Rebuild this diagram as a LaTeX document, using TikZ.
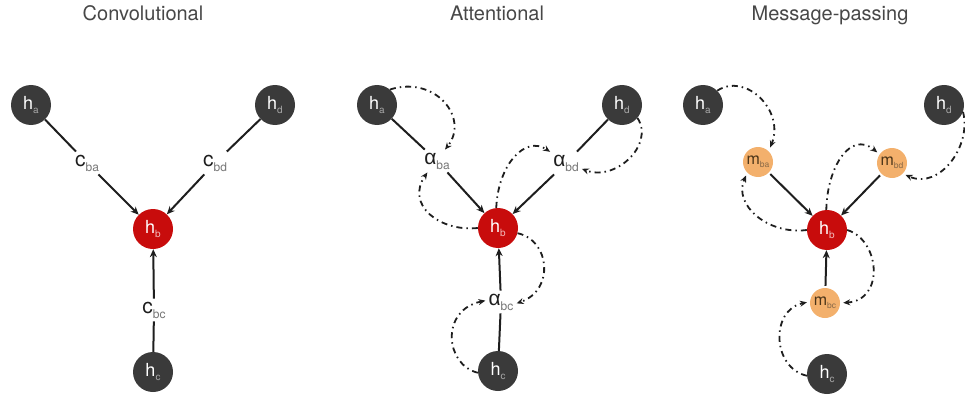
\documentclass[tikz,border=0pt]{standalone}
\usepackage{fontspec}
\setmainfont{TeX Gyre Heros}
\newfontfamily\greekfont{Liberation Sans}
\usetikzlibrary{arrows.meta}

\definecolor{nodegrey}{HTML}{3A3A3A}
\definecolor{nodered}{HTML}{C80C0C}
\definecolor{nodeorange}{HTML}{F3B06C}
\definecolor{titlegrey}{HTML}{474747}
\definecolor{subgrey}{HTML}{A8A8A8}
\definecolor{subpink}{HTML}{F2B8B8}
\definecolor{subbrown}{HTML}{8A6A48}
\definecolor{inkgrey}{HTML}{1E1E1E}
\definecolor{labgrey}{HTML}{777777}
\definecolor{mtext}{HTML}{4A3418}

% node symbols with a small, lowered, tinted subscript
\newcommand\hnode[2]{h\raisebox{-4pt}{\fontsize{10}{10}\selectfont\color{#2}#1}}
\newcommand\mnode[1]{m\raisebox{-3pt}{\fontsize{8.5}{8.5}\selectfont\color{subbrown}#1}}
\newcommand\coefsub[2]{#1\raisebox{-5pt}{\fontsize{12}{12}\selectfont\color{labgrey}#2}}

\begin{document}
\begin{tikzpicture}[x=1pt,y=-1pt,
  state/.style={circle, fill=nodegrey, minimum size=40pt, inner sep=0pt,
    text=white, font=\fontsize{18}{18}\selectfont},
  focus/.style={state, fill=nodered},
  msg/.style={circle, fill=nodeorange, minimum size=30pt, inner sep=0pt,
    text=mtext, font=\fontsize{16}{16}\selectfont},
  coef/.style={inner sep=3pt, text=inkgrey, font=\fontsize{21}{21}\selectfont},
  heading/.style={text=titlegrey, font=\fontsize{20}{20}\selectfont, anchor=base},
  link/.style={line width=2pt, draw=inkgrey},
  flow/.style={link, -{Stealth[length=8pt,width=7pt]}},
  relay/.style={line width=1.8pt, draw=inkgrey,
    dash pattern=on 6pt off 4pt on 1.5pt off 4pt,
    -{Stealth[length=7pt,width=6pt]}}]
\useasboundingbox (0,0) rectangle (965,401);

% ---------------- Convolutional ----------------
\node[heading] (t1) at (143,21) {Convolutional};
\node[state] (ca) at (31,105) {\hnode{a}{subgrey}};
\node[state] (cd) at (275,105) {\hnode{d}{subgrey}};
\node[focus] (cb) at (153,229) {\hnode{b}{subpink}};
\node[state] (cc) at (153,372) {\hnode{c}{subgrey}};
\node[coef] (kba) at (87,163) {\coefsub{c}{ba}};
\node[coef] (kbd) at (215,163) {\coefsub{c}{bd}};
\node[coef] (kbc) at (154,310) {\coefsub{c}{bc}};
\draw[link] (ca) -- (kba);
\draw[flow] (kba) -- (cb);
\draw[link] (cd) -- (kbd);
\draw[flow] (kbd) -- (cb);
\draw[link] (cc) -- (kbc);
\draw[flow] (kbc) -- (cb);

% ---------------- Attentional ----------------
\node[heading] (t2) at (497,21) {Attentional};
\node[state] (aa) at (377,105) {\hnode{a}{subgrey}};
\node[state] (ad) at (622,105) {\hnode{d}{subgrey}};
\node[focus] (ab) at (498,228) {\hnode{b}{subpink}};
\node[state] (ac) at (498,371) {\hnode{c}{subgrey}};
\node[coef] (wba) at (437,161) {\coefsub{{\greekfont α}}{ba}};
\node[coef] (wbd) at (566,163) {\coefsub{{\greekfont α}}{bd}};
\node[coef] (wbc) at (501,302) {\coefsub{{\greekfont α}}{bc}};
\draw[link] (aa) -- (wba);
\draw[flow] (wba) -- (ab);
\draw[link] (ad) -- (wbd);
\draw[flow] (wbd) -- (ab);
\draw[link] (ac) -- (wbc);
\draw[flow] (wbc) -- (ab);
% attention scores computed from pairs of states
\draw[relay] (aa.50) .. controls (435,75) and (470,118) .. (wba.55);
\draw[relay] (ab.180) .. controls (440,232) and (405,205) .. (wba.-130);
\draw[relay] (ab.95) .. controls (498,165) and (525,135) .. (wbd.145);
\draw[relay] (ad.-40) .. controls (655,145) and (615,182) .. (wbd.-20);
\draw[relay] (ab.-15) .. controls (550,240) and (555,290) .. (wbc.-5);
\draw[relay] (ac.185) .. controls (445,365) and (440,310) .. (wbc.175);

% ---------------- Message-passing ----------------
\node[heading] (t3) at (830,21) {Message-passing};
\node[state] (ma) at (703,105) {\hnode{a}{subgrey}};
\node[state] (md) at (944,105) {\hnode{d}{subgrey}};
\node[focus] (mb) at (827,230) {\hnode{b}{subpink}};
\node[state] (mc) at (827,374) {\hnode{c}{subgrey}};
\node[msg] (nba) at (758,162) {\mnode{ba}};
\node[msg] (nbd) at (892,163) {\mnode{bd}};
\node[msg] (nbc) at (825,303) {\mnode{bc}};
\draw[flow, shorten <=2pt] (nba) -- (mb);
\draw[flow, shorten <=2pt] (nbd) -- (mb);
\draw[flow, shorten <=2pt] (nbc) -- (mb);
% messages computed from pairs of states
\draw[relay, shorten >=4pt] (ma.45) .. controls (745,72) and (785,110) .. (nba.45);
\draw[relay, shorten >=3pt] (mb.180) .. controls (768,235) and (733,205) .. (nba.225);
\draw[relay, shorten >=3pt] (mb.92) .. controls (827,168) and (850,130) .. (nbd.145);
\draw[relay, shorten >=3pt] (md.-20) .. controls (972,145) and (940,190) .. (nbd.-45);
\draw[relay, shorten >=3pt] (mb.0) .. controls (880,240) and (885,300) .. (nbc.0);
\draw[relay, shorten >=3pt] (mc.185) .. controls (772,368) and (770,310) .. (nbc.175);
\end{tikzpicture}
\end{document}
